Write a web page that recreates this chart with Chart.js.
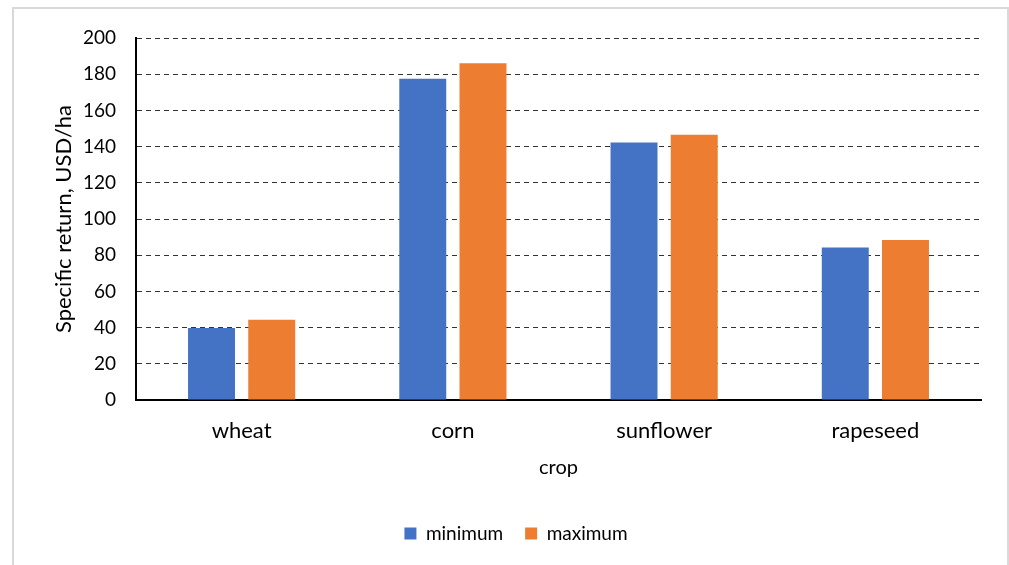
<!DOCTYPE html>
<html>
<head>
<meta charset="utf-8">
<script src="https://cdn.jsdelivr.net/npm/chart.js@4/dist/chart.umd.min.js"></script>
<style>
  html, body { margin: 0; padding: 0; background: #fff; }
  #wrap { width: 1009px; height: 565px; position: relative; }
</style>
</head>
<body>
<div id="wrap"><canvas id="cropChart"></canvas></div>
<script>
// Crop data (USD per hectare)
const crops = ['wheat', 'corn', 'sunflower', 'rapeseed'];
const minimumReturn = [39.8, 177.5, 142.2, 84.3];
const maximumReturn = [44.4, 186.1, 146.6, 88.4];
const yTicks = [0, 20, 40, 60, 80, 100, 120, 140, 160, 180, 200];

Chart.defaults.font.family = 'Lato, "Open Sans", sans-serif';
Chart.defaults.color = '#000';

// Light grey frame around the whole chart
const frame = {
    id: 'frame',
    beforeDraw(chart) {
        const c = chart.ctx;
        c.save();
        c.strokeStyle = '#d9d9d9';
        c.lineWidth = 2;
        c.strokeRect(13, 8, 995, 600);
        c.restore();
    }
};

const ctx = document.getElementById('cropChart').getContext('2d');

new Chart(ctx, {
    type: 'bar',
    data: {
        labels: crops,
        datasets: [{
            label: 'minimum',
            data: minimumReturn,
            backgroundColor: '#4472C4',
            categoryPercentage: 0.57,
            barPercentage: 0.78
        }, {
            label: 'maximum',
            data: maximumReturn,
            backgroundColor: '#ED7D31',
            categoryPercentage: 0.57,
            barPercentage: 0.78
        }]
    },
    options: {
        responsive: true,
        maintainAspectRatio: false,
        animation: false,
        layout: {
            padding: { top: 38, right: 28, bottom: 12, left: 51 }
        },
        scales: {
            x: {
                grid: { display: false },
                border: { color: '#000', width: 2 },
                ticks: { font: { size: 22 }, padding: 10 },
                // title sits at the bottom edge of the axis box, lift it by its bottom padding
                title: { display: true, text: 'crop', font: { size: 20 }, padding: { top: 6, bottom: 22 } },
                afterFit(scale) { scale.height = 102; }
            },
            y: {
                min: 0,
                max: 200,
                afterBuildTicks(scale) { scale.ticks = yTicks.map(v => ({ value: v })); },
                grid: {
                    color: '#333',
                    lineWidth: 1,
                    drawTicks: false
                },
                border: { color: '#000', width: 2, dash: [5, 4] },
                ticks: { font: { size: 19 }, padding: 20 },
                title: { display: true, text: 'Specific return, USD/ha', font: { size: 22 }, padding: { top: 0, bottom: 0 } },
                afterFit(scale) { scale.width = 85; }
            }
        },
        plugins: {
            legend: {
                position: 'bottom',
                labels: {
                    font: { size: 19 },
                    boxWidth: 12,
                    boxHeight: 12,
                    padding: 22,
                    useBorderRadius: false
                }
            },
            tooltip: { enabled: false }
        }
    },
    plugins: [frame]
});
</script>
</body>
</html>
